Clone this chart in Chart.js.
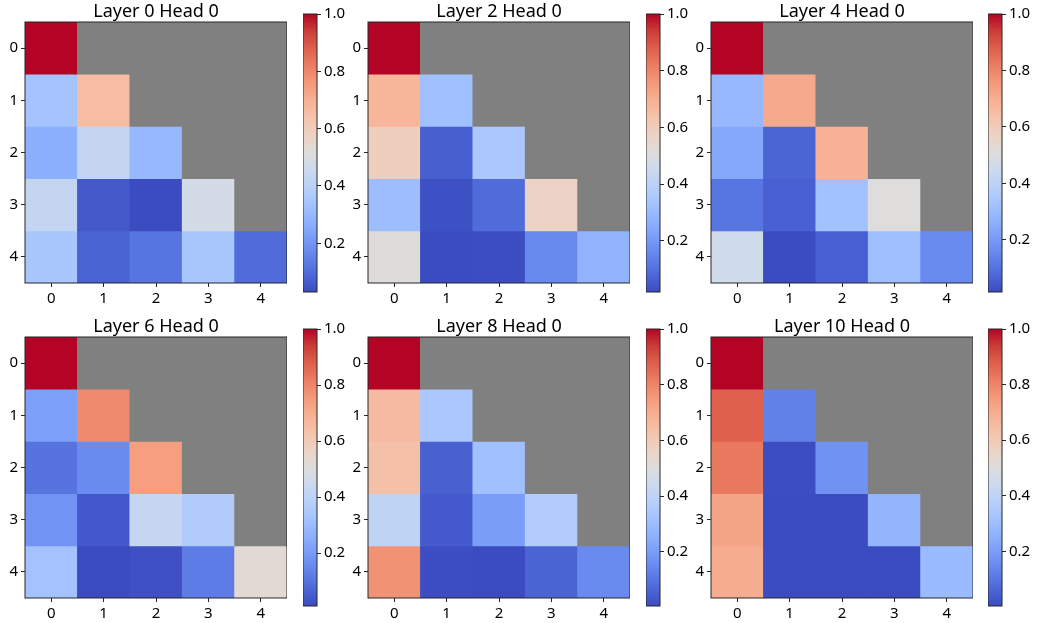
<!DOCTYPE html>
<html>
<head>
<meta charset="utf-8">
<script src="https://cdn.jsdelivr.net/npm/chart.js@4.4.1/dist/chart.umd.min.js"></script>
<style>
  body { margin: 0; background: #fff; width: 1037px; height: 623px; overflow: hidden; position: relative; }
  canvas { position: absolute; }
</style>
</head>
<body>
<script>
// ── Data ─────────────────────────────────────────────
const titles = ['Layer 0 Head 0', 'Layer 2 Head 0', 'Layer 4 Head 0',
                'Layer 6 Head 0', 'Layer 8 Head 0', 'Layer 10 Head 0'];
const colLabels = ['0', '1', '2', '3', '4'];
const rowLabels = ['0', '1', '2', '3', '4'];

// attention weights, null = masked (future token)
const layer0 = [
  [1.00, null, null, null, null],
  [0.34, 0.66, null, null, null],
  [0.27, 0.43, 0.30, null, null],
  [0.43, 0.06, 0.03, 0.48, null],
  [0.35, 0.08, 0.12, 0.35, 0.10],
];
const layer2 = [
  [1.00, null, null, null, null],
  [0.68, 0.32, null, null, null],
  [0.59, 0.06, 0.35, null, null],
  [0.31, 0.03, 0.09, 0.57, null],
  [0.52, 0.02, 0.025, 0.16, 0.275],
];
const layer4 = [
  [1.00, null, null, null, null],
  [0.29, 0.71, null, null, null],
  [0.24, 0.07, 0.69, null, null],
  [0.11, 0.06, 0.32, 0.51, null],
  [0.455, 0.015, 0.06, 0.31, 0.16],
];
const layer6 = [
  [1.00, null, null, null, null],
  [0.21, 0.79, null, null, null],
  [0.10, 0.16, 0.74, null, null],
  [0.18, 0.04, 0.42, 0.36, null],
  [0.32, 0.011, 0.02, 0.12, 0.53],
];
const layer8 = [
  [1.00, null, null, null, null],
  [0.66, 0.34, null, null, null],
  [0.64, 0.05, 0.31, null, null],
  [0.40, 0.04, 0.20, 0.36, null],
  [0.77, 0.01, 0.006, 0.06, 0.15],
];
const layer10 = [
  [1.00, null, null, null, null],
  [0.875, 0.125, null, null, null],
  [0.825, 0.005, 0.17, null, null],
  [0.72, 0.004, 0.004, 0.27, null],
  [0.70, 0.003, 0.003, 0.003, 0.29],
];
const matrices = [layer0, layer2, layer4, layer6, layer8, layer10];

const cbTicks = [0.2, 0.4, 0.6, 0.8, 1.0];
const cbTickLabels = ['0.2', '0.4', '0.6', '0.8', '1.0'];

// ── Style ────────────────────────────────────────────
const FONT = "'Noto Sans', sans-serif";
const INK = '#000';
const FRAME = '#262626';
const MASK = '#808080';

// coolwarm anchors (every 1/16)
const COOLWARM = [
  [59, 76, 192], [77, 104, 215], [98, 130, 234], [119, 154, 247],
  [141, 176, 254], [163, 194, 255], [184, 208, 249], [204, 217, 238],
  [221, 221, 221], [236, 211, 197], [245, 196, 173], [247, 177, 148],
  [244, 154, 123], [236, 127, 99], [222, 96, 77], [203, 62, 56],
  [180, 4, 38],
];

function coolwarm(t) {
  t = Math.min(1, Math.max(0, t));
  const p = t * (COOLWARM.length - 1);
  const i = Math.min(COOLWARM.length - 2, Math.floor(p));
  const f = p - i;
  const a = COOLWARM[i], b = COOLWARM[i + 1];
  const c = a.map((v, k) => Math.round(v + (b[k] - v) * f));
  return `rgb(${c[0]},${c[1]},${c[2]})`;
}

Chart.defaults.font.family = FONT;
Chart.defaults.color = INK;
Chart.defaults.animation = false;

// draws the black frame around a chart area
const framePlugin = {
  id: 'frame',
  afterDraw(chart) {
    const { ctx, chartArea: a } = chart;
    ctx.save();
    ctx.strokeStyle = FRAME;
    ctx.lineWidth = 1;
    ctx.strokeRect(a.left, a.top, a.right - a.left, a.bottom - a.top);
    ctx.restore();
  }
};

// panel geometry
const heatLeft = [25, 368, 711];
const heatTop = [22, 337];
const heatSize = [262, 261];
const cbLeft = [303, 646, 988];
const cbTop = [14, 329];
const cbBottom = [292, 606];
const cbWidth = 14;

const tickFont = { family: FONT, size: 15 };

function makeCanvas(left, top, w, h) {
  const c = document.createElement('canvas');
  c.width = w; c.height = h;
  c.style.left = left + 'px';
  c.style.top = top + 'px';
  document.body.appendChild(c);
  return c;
}

matrices.forEach((m, idx) => {
  const col = idx % 3, row = Math.floor(idx / 3);
  const values = m.flat().filter(v => v !== null);
  const vmin = Math.min(...values);
  const vmax = Math.max(...values);

  // ── Heatmap ──
  const yAxisW = 30, xAxisH = 30, titleH = 22;
  const cv = makeCanvas(heatLeft[col] - yAxisW, heatTop[row] - titleH,
                        yAxisW + heatSize[0], titleH + heatSize[1] + xAxisH);

  const datasets = rowLabels.map((_, r) => ({
    data: colLabels.map(() => [r - 0.5, r + 0.5]),
    backgroundColor: m[r].map(v => v === null ? MASK : coolwarm((v - vmin) / (vmax - vmin))),
    borderWidth: 0,
    grouped: false,
    barPercentage: 1,
    categoryPercentage: 1,
  }));

  new Chart(cv.getContext('2d'), {
    type: 'bar',
    data: { labels: colLabels, datasets },
    options: {
      responsive: false,
      layout: { padding: 0, autoPadding: false },
      plugins: {
        legend: { display: false },
        tooltip: { enabled: false },
        title: {
          display: true,
          fullSize: false,
          text: titles[idx],
          color: INK,
          font: { family: FONT, size: 18, weight: 'normal', lineHeight: 1.2 },
          padding: { top: 0.6, bottom: -0.2 },
        },
      },
      scales: {
        x: {
          type: 'category',
          grid: { drawOnChartArea: false, drawTicks: true, offset: false, tickLength: 4, color: FRAME },
          border: { display: false },
          ticks: { font: tickFont, color: INK, padding: 3, maxRotation: 0 },
          afterFit: s => { s.height = xAxisH; },
        },
        y: {
          type: 'linear',
          min: -0.5, max: 4.5, reverse: true,
          afterBuildTicks: s => { s.ticks = rowLabels.map((_, i) => ({ value: i })); },
          grid: { drawOnChartArea: false, drawTicks: true, tickLength: 4, color: FRAME },
          border: { display: false },
          ticks: { font: tickFont, color: INK, padding: 3, callback: (v, i) => rowLabels[i] },
          afterFit: s => { s.width = yAxisW; },
        },
      },
    },
    plugins: [framePlugin],
  });

  // ── Colorbar ──
  const padV = 12, axisW = 40;
  const cbH = cbBottom[row] - cbTop[row];
  const cc = makeCanvas(cbLeft[col], cbTop[row] - padV, cbWidth + axisW, cbH + padV * 2);

  new Chart(cc.getContext('2d'), {
    type: 'bar',
    data: {
      labels: [''],
      datasets: [{
        data: [[vmin, vmax]],
        borderWidth: 0,
        barPercentage: 1,
        categoryPercentage: 1,
        backgroundColor: (ctx) => {
          const chart = ctx.chart;
          if (!chart.chartArea) return MASK;
          const y0 = chart.scales.y.getPixelForValue(vmin);
          const y1 = chart.scales.y.getPixelForValue(vmax);
          const g = chart.ctx.createLinearGradient(0, y0, 0, y1);
          COOLWARM.forEach((c, k) => g.addColorStop(k / (COOLWARM.length - 1), `rgb(${c[0]},${c[1]},${c[2]})`));
          return g;
        },
      }],
    },
    options: {
      responsive: false,
      layout: { padding: { top: padV, bottom: padV, left: 0, right: 0 }, autoPadding: false },
      plugins: { legend: { display: false }, tooltip: { enabled: false } },
      scales: {
        x: { display: false },
        y: {
          position: 'right',
          min: vmin, max: vmax,
          afterBuildTicks: s => { s.ticks = cbTicks.map(v => ({ value: v })); },
          grid: { drawOnChartArea: false, drawTicks: true, tickLength: 4, color: FRAME },
          border: { display: false },
          ticks: { font: tickFont, color: INK, padding: 3, callback: (v, i) => cbTickLabels[i] },
          afterFit: s => { s.width = axisW; },
        },
      },
    },
    plugins: [framePlugin],
  });
});
</script>
</body>
</html>
